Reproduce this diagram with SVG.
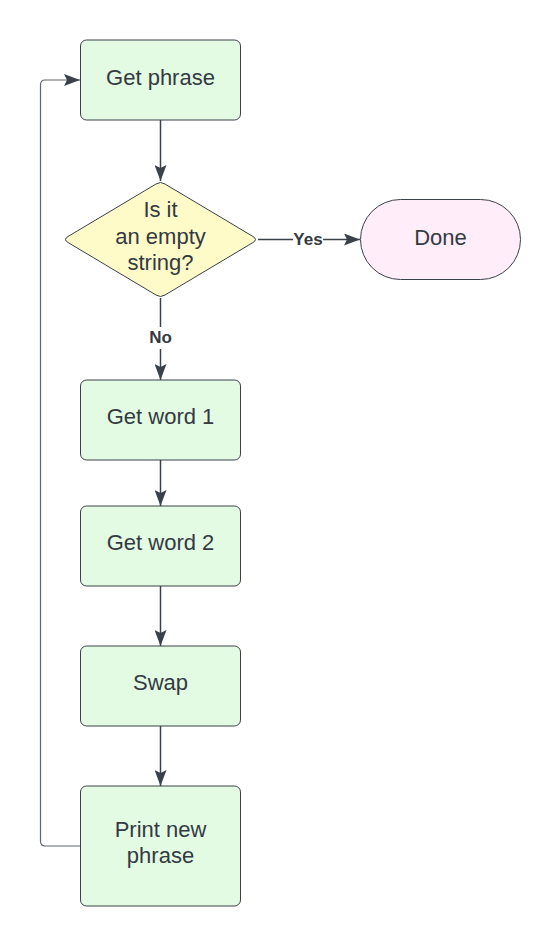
<svg xmlns="http://www.w3.org/2000/svg" width="560" height="946" viewBox="0 0 560 946">
<style>
.box{fill:#e3fae3;stroke:#3a414a;stroke-width:1;}
.dec{fill:#fffbc8;stroke:#3a414a;stroke-width:1;}
.term{fill:#ffeefa;stroke:#3a414a;stroke-width:1;}
.t{font-family:"Liberation Sans",Arial,sans-serif;font-size:22px;fill:#333a42;text-anchor:middle;}
.lbl{font-family:"Liberation Sans",Arial,sans-serif;font-size:17px;font-weight:bold;fill:#333a42;text-anchor:middle;}
.c{fill:none;stroke:#3a414a;stroke-width:1.5;}
.loop{fill:none;stroke:#5e6670;stroke-width:1.2;}
</style>
<defs>
<marker id="ah" viewBox="0 0 16 12" refX="16" refY="6" markerWidth="16" markerHeight="12" markerUnits="userSpaceOnUse" orient="auto">
<path d="M0,0 L16,6 L0,12 L3,6 Z" fill="#3a414a"/>
</marker>
</defs>
<rect width="560" height="946" fill="#ffffff"/>
<g id="connectors">
<path class="c" d="M160.5,120 V181" marker-end="url(#ah)"/>
<path class="c" d="M258,239.5 H293"/>
<path class="c" d="M323,239.5 H360" marker-end="url(#ah)"/>
<path class="c" d="M160.5,298 V327"/>
<path class="c" d="M160.5,349 V380" marker-end="url(#ah)"/>
<path class="c" d="M160.5,460 V506" marker-end="url(#ah)"/>
<path class="c" d="M160.5,586 V646" marker-end="url(#ah)"/>
<path class="c" d="M160.5,726 V786" marker-end="url(#ah)"/>
<path class="loop" d="M80,846 H45 Q40.5,846 40.5,841 V85 Q40.5,80 45,80 H80" marker-end="url(#ah)"/>
<text class="lbl" x="308" y="245">Yes</text>
<text class="lbl" x="160.5" y="343">No</text>
</g>
<g id="get-phrase">
<rect class="box" x="80.5" y="40" width="160" height="80" rx="6"/>
<text class="t" x="160.5" y="85">Get phrase</text>
</g>
<g id="decision">
<path class="dec" d="M156,184 Q160.5,181 165,184 L253,236.5 Q258,239.5 253,242.5 L165,295 Q160.5,298 156,295 L68,242.5 Q63,239.5 68,236.5 Z"/>
<text class="t" x="160.5" y="217">Is it</text>
<text class="t" x="160.5" y="244">an empty</text>
<text class="t" x="160.5" y="270">string?</text>
</g>
<g id="done">
<rect class="term" x="360.5" y="199.5" width="160" height="80" rx="40"/>
<text class="t" x="440.5" y="245">Done</text>
</g>
<g id="get-word-1">
<rect class="box" x="80.5" y="380" width="160" height="80" rx="6"/>
<text class="t" x="160.5" y="424">Get word 1</text>
</g>
<g id="get-word-2">
<rect class="box" x="80.5" y="506" width="160" height="80" rx="6"/>
<text class="t" x="160.5" y="550">Get word 2</text>
</g>
<g id="swap">
<rect class="box" x="80.5" y="646" width="160" height="80" rx="6"/>
<text class="t" x="160.5" y="690">Swap</text>
</g>
<g id="print-new-phrase">
<rect class="box" x="80.5" y="786" width="160" height="120" rx="6"/>
<text class="t" x="160.5" y="837">Print new</text>
<text class="t" x="160.5" y="863">phrase</text>
</g>
</svg>
